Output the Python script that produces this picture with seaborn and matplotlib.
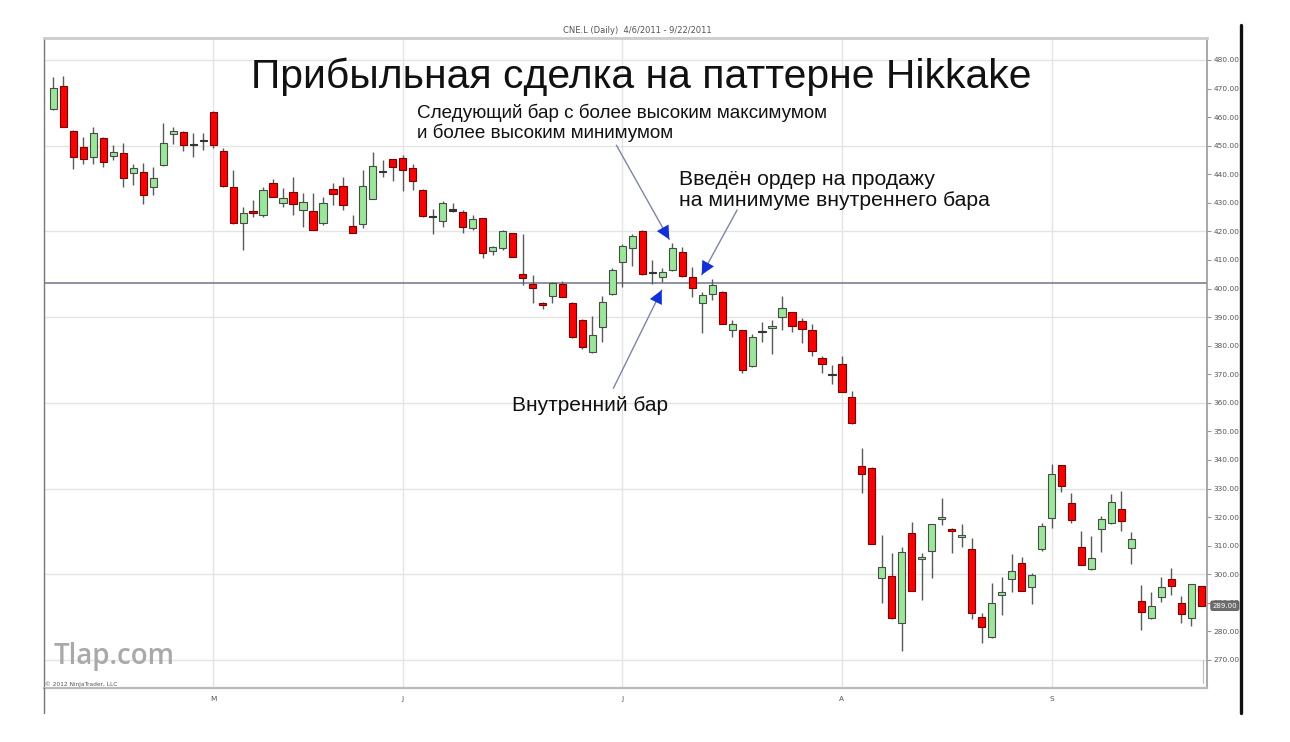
import numpy as np
import pandas as pd
import matplotlib
matplotlib.use("Agg")
import matplotlib.pyplot as plt
import seaborn as sns
from matplotlib.lines import Line2D

# ---------------- data ----------------
open_ = [462.8, 470.9, 455.1, 449.4, 445.9, 452.6, 446.5, 447.3, 440.6, 440.7,
         435.5, 443.1, 454.1, 454.9, 450.4, 451.8, 461.8, 448.3, 435.4, 423.1,
         427.2, 425.7, 436.8, 430.1, 433.9, 427.5, 427.3, 422.8, 434.7, 435.9,
         422.0, 422.5, 431.2, 440.8, 445.3, 445.8, 442.2, 434.5, 425.3, 423.6,
         427.6, 426.9, 421.1, 424.8, 413.2, 414.1, 419.3, 405.0, 401.6, 394.8,
         397.4, 401.6, 395.1, 389.0, 377.7, 386.7, 398.0, 409.4, 414.1, 420.3,
         405.7, 404.2, 406.5, 412.9, 403.9, 395.0, 398.1, 398.9, 385.5, 385.5,
         372.9, 385.0, 386.1, 390.2, 391.7, 388.8, 385.5, 375.6, 369.9, 373.7,
         361.9, 338.0, 337.3, 298.8, 299.5, 283.1, 314.6, 305.2, 308.1, 319.5,
         316.0, 313.2, 308.7, 284.9, 277.9, 292.7, 298.2, 304.1, 295.4, 308.7,
         319.6, 338.2, 325.1, 309.7, 301.9, 315.7, 317.8, 323.0, 309.1, 290.6,
         284.6, 291.9, 298.3, 289.9, 284.6, 295.9]
high = [474.2, 474.4, 455.5, 453.2, 456.7, 453.0, 450.2, 450.8, 443.6, 443.8,
        442.4, 457.8, 456.7, 455.2, 454.6, 454.6, 462.0, 449.1, 441.5, 428.7,
        431.0, 435.7, 438.2, 435.1, 439.2, 433.6, 433.3, 431.9, 437.1, 439.2,
        425.7, 441.5, 447.9, 445.0, 445.5, 446.7, 443.5, 434.7, 428.0, 430.6,
        429.8, 427.5, 425.7, 424.8, 414.9, 420.5, 419.5, 419.0, 404.7, 395.4,
        402.4, 402.8, 395.3, 389.2, 390.4, 397.4, 407.1, 415.5, 419.0, 420.4,
        410.0, 407.3, 415.8, 414.7, 407.7, 398.9, 403.4, 399.0, 389.0, 385.6,
        384.1, 388.2, 389.0, 397.4, 391.8, 389.6, 387.5, 376.4, 373.4, 376.3,
        364.3, 344.3, 337.4, 313.7, 307.6, 309.4, 318.4, 307.3, 317.6, 326.6,
        316.1, 317.5, 312.8, 286.3, 297.1, 298.9, 307.1, 306.2, 300.3, 318.1,
        338.6, 338.3, 328.6, 315.3, 313.4, 320.4, 328.1, 329.3, 314.9, 296.2,
        293.9, 298.9, 302.1, 292.4, 296.7, 296.0]
low = [462.5, 456.7, 441.7, 443.6, 443.6, 442.4, 445.0, 435.4, 436.2, 429.5,
       432.9, 443.0, 450.5, 448.3, 446.2, 448.5, 449.1, 435.7, 422.6, 413.5,
       425.2, 425.2, 432.2, 428.7, 425.7, 421.7, 420.5, 422.2, 429.2, 427.5,
       419.3, 421.1, 431.2, 439.2, 437.5, 434.0, 434.5, 425.2, 419.2, 421.7,
       426.9, 419.6, 420.5, 410.6, 411.7, 413.5, 411.0, 401.2, 394.8, 392.7,
       394.8, 397.2, 382.6, 378.7, 377.3, 381.4, 397.7, 400.7, 407.9, 404.9,
       401.6, 402.4, 406.3, 404.2, 397.2, 384.5, 396.1, 387.5, 383.2, 370.6,
       372.4, 381.4, 377.1, 385.5, 384.9, 381.1, 376.4, 370.3, 366.7, 363.7,
       352.6, 328.3, 310.5, 289.8, 284.2, 273.3, 294.0, 291.0, 298.6, 317.2,
       307.3, 309.7, 284.2, 276.1, 277.8, 285.7, 293.9, 294.2, 289.5, 308.3,
       316.1, 328.9, 317.8, 303.1, 301.5, 307.9, 317.6, 315.3, 303.6, 280.5,
       284.5, 290.4, 292.7, 282.8, 281.9, 288.9]
close = [470.1, 456.7, 446.2, 445.3, 454.6, 444.3, 447.9, 438.7, 442.1, 432.7,
         438.6, 450.8, 455.3, 450.1, 450.2, 452.0, 450.2, 435.9, 422.8, 426.6,
         426.4, 434.5, 432.2, 431.6, 429.6, 430.4, 420.5, 429.8, 433.0, 429.2,
         419.3, 435.9, 443.0, 441.0, 442.7, 441.4, 437.5, 425.4, 425.2, 429.8,
         427.4, 421.4, 424.3, 412.6, 414.5, 420.1, 411.2, 403.6, 400.3, 394.2,
         402.1, 397.2, 383.2, 379.4, 383.7, 395.4, 406.5, 414.9, 418.5, 405.0,
         405.5, 405.7, 414.3, 404.4, 400.1, 397.7, 401.2, 387.6, 387.5, 371.6,
         382.9, 384.8, 387.0, 393.3, 386.9, 385.7, 378.3, 373.6, 369.7, 363.9,
         352.8, 335.0, 310.6, 302.4, 284.6, 307.8, 294.1, 306.2, 317.5, 320.2,
         315.3, 313.7, 286.6, 281.7, 289.8, 293.9, 301.3, 294.3, 299.7, 316.9,
         335.1, 331.0, 319.0, 303.2, 305.6, 319.2, 325.4, 318.6, 312.5, 286.9,
         289.0, 295.4, 295.9, 286.1, 296.6, 289.0]

month_labels = ["M", "J", "J", "A", "S"]
month_start_bar = [16, 35, 57, 79, 100]
price_ticks = [270, 280, 290, 300, 310, 320, 330, 340, 350, 360, 370, 380,
               390, 400, 410, 420, 430, 440, 450, 460, 470, 480]
grid_prices = [270, 300, 330, 360, 390, 420, 450, 480]
level_price = 401.8
last_price = 289.00

title_text = "Прибыльная сделка на паттерне Hikkake"
chart_caption = "CNE.L (Daily)  4/6/2011 - 9/22/2011"
note_next_bar = ["Следующий бар с более высоким максимумом",
                 "и более высоким минимумом"]
note_order = ["Введён ордер на продажу", "на минимуме внутреннего бара"]
note_inside = "Внутренний бар"
watermark = "Tlap.com"
copyright_text = "© 2012 NinjaTrader, LLC"

# ---------------- styling ----------------
sns.set_style("white")
plt.rcParams["font.family"] = ["Liberation Sans", "DejaVu Sans"]

W, H = 1290, 742
fig = plt.figure(figsize=(W / 100, H / 100), dpi=100)
fig.patch.set_facecolor("white")


def fx(x):
    return x / W


def fy(y):
    return 1 - y / H


ax = fig.add_axes([fx(44), fy(688), (1207 - 44) / W, (688 - 38) / H])
ax.set_facecolor("white")

df = pd.DataFrame({"bar": np.arange(len(open_)), "open": open_, "high": high,
                   "low": low, "close": close})
df["bottom"] = df[["open", "close"]].min(axis=1)
df["height"] = (df["close"] - df["open"]).abs()
df["kind"] = np.where(df["height"] < 0.35, "doji",
                      np.where(df["close"] > df["open"], "up", "down"))
df.loc[df["kind"] == "doji", "bottom"] = (df["open"] + df["close"]) / 2 - 0.2
df.loc[df["kind"] == "doji", "height"] = 0.4

# grid
for gp in grid_prices:
    ax.axhline(gp, color="#e4e4e4", lw=1.0, zorder=0)
for mb in month_start_bar:
    ax.axvline(mb, color="#e4e4e4", lw=1.0, zorder=0)

# wicks
ax.vlines(df["bar"], df["low"], df["high"], colors="#5a5a5a", lw=1.0, zorder=2)

# bodies via seaborn
styles = {"up": ("#98e898", "#4a4a4a"), "down": ("#ff0000", "#7a0000"),
          "doji": ("#333333", "#333333")}
for kind, (fc, ec) in styles.items():
    sub = df[df["kind"] == kind].sort_values("bar")
    sns.barplot(x=sub["bar"].values, y=sub["height"].values,
                bottom=sub["bottom"].values, native_scale=True, width=0.72,
                color=fc, saturation=1, edgecolor=ec, linewidth=0.8,
                errorbar=None, ax=ax, zorder=3)

# level line
ax.axhline(level_price, color="#70748a", lw=1.1, zorder=1.5)

ax.set_xlim(-0.95, 115.58)
ax.set_ylim(260.2, 487.7)
ax.set_xlabel("")
ax.set_ylabel("")

ax.yaxis.tick_right()
ax.set_yticks(price_ticks)
ax.set_yticklabels([f"{p:.2f}" for p in price_ticks], fontsize=5.3,
                   color="#555555", family="DejaVu Sans")
ax.tick_params(axis="y", length=3, width=0.8, color="#999999", pad=1.5,
               right=True, left=False)
ax.set_xticks(month_start_bar)
ax.set_xticklabels(month_labels, fontsize=5.3, color="#555555",
                   family="DejaVu Sans")
ax.tick_params(axis="x", length=0, pad=6)

for side, (c, lw) in {"top": ("#cccccc", 2.0), "bottom": ("#bbbbbb", 1.6),
                      "left": ("#777777", 1.0), "right": ("#999999", 1.2)}.items():
    ax.spines[side].set_visible(True)
    ax.spines[side].set_color(c)
    ax.spines[side].set_linewidth(lw)

# outer frame lines
fig.add_artist(Line2D([fx(44), fx(44)], [fy(688), fy(713)], color="#777777",
                      lw=1.0))
fig.add_artist(Line2D([fx(1240.5), fx(1240.5)], [fy(25), fy(713)],
                      color="#111111", lw=2.4))
fig.add_artist(Line2D([fx(1203), fx(1203)], [fy(660), fy(683)],
                      color="#bbbbbb", lw=0.8))

# last price marker
ax.annotate(f"{last_price:.2f}", xy=(1.0, last_price),
            xycoords=("axes fraction", "data"), xytext=(4, 0),
            textcoords="offset points", va="center", ha="left",
            fontsize=5.0, color="white", family="DejaVu Sans",
            bbox=dict(boxstyle="round,pad=0.25", fc="#6d6d6d", ec="#555555",
                      lw=0.6))

# texts
fig.text(fx(637), fy(33), chart_caption, ha="center", va="baseline",
         fontsize=6, color="#555555", family="DejaVu Sans")
fig.text(fx(641.5), fy(88), title_text, ha="center", va="baseline",
         fontsize=29.4, color="#111111")
for k, line in enumerate(note_next_bar):
    fig.text(fx(417), fy(118 + 20.5 * k), line, ha="left", va="baseline",
             fontsize=13.6, color="#111111")
for k, line in enumerate(note_order):
    fig.text(fx(679), fy(185 + 21 * k), line, ha="left", va="baseline",
             fontsize=15.2, color="#111111")
fig.text(fx(512.5), fy(411), note_inside, ha="left", va="baseline",
         fontsize=15.0, color="#111111")
fig.text(fx(54), fy(664), watermark, ha="left", va="baseline", fontsize=20,
         color="#a9a9a9", family="Open Sans", weight="semibold")
fig.text(fx(45), fy(686), copyright_text, ha="left", va="baseline",
         fontsize=4.2, color="#555555", family="DejaVu Sans")

# arrows (data coordinates: bar index, price)
arrows = [((56.4, 450.2), (62 - 0.3, high[62] + 1.4)),
          ((68.5, 427.5), (64.95, 404.8)),
          ((56.1, 365.1), (60.95, low[61] - 2.9))]
for tail, tip in arrows:
    ax.annotate("", xy=tip, xytext=tail,
                arrowprops=dict(arrowstyle="-", color="#7d85aa", lw=1.0,
                                shrinkA=0, shrinkB=0), zorder=5)
    t = np.array(tail)
    p = np.array(tip)
    d = t - p
    back = p + d * 0.08
    ax.annotate("", xy=tip, xytext=tuple(back),
                arrowprops=dict(arrowstyle="-|>,head_length=0.8,head_width=0.4",
                                color="#1030e0", lw=0.01, shrinkA=0,
                                shrinkB=0, mutation_scale=12), zorder=6)

fig.savefig("out.png", dpi=100, facecolor="white")
